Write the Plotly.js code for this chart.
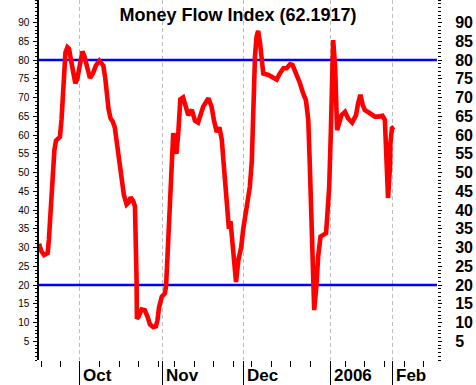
<!DOCTYPE html>
<html>
<head>
<meta charset="utf-8">
<script src="https://cdn.plot.ly/plotly-3.0.1.min.js"></script>
<style>html,body{margin:0;padding:0;background:#fff;}#chart{width:476px;height:385px;}</style>
</head>
<body>
<div id="chart"></div>
<script>
// Trading-session index (x) and Money Flow Index values (y)
const sessions = [0,0.6,1.3,2.2,2.5,2.9,3.3,3.5,3.9,4.3,4.8,5.3,5.7,6.0,6.2,6.7,7.2,7.6,8.1,8.6,9.2,9.7,10.4,11.0,11.5,12.2,12.9,13.7,14.4,15.3,16.3,16.8,17.2,17.6,18.1,18.7,19.2,19.6,19.9,20.3,20.9,21.5,22.2,22.7,23.2,23.8,24.3,24.5,24.7,24.8,25.2,26.0,26.8,27.5,28.1,28.9,29.6,30.0,30.4,31.1,31.9,32.2,32.4,32.7,33.0,33.3,33.6,34.0,34.4,34.8,35.3,35.8,36.5,37.0,37.8,38.7,39.5,40.3,41.6,42.9,43.7,44.3,45.0,45.7,46.3,46.7,47.1,47.5,47.9,48.1,48.5,48.8,49.2,49.9,50.5,51.2,51.7,52.6,53.4,53.9,54.1,54.3,54.7,55.1,55.5,56.0,56.4,56.8,58.1,59.3,60.2,61.0,61.9,62.7,63.6,64.2,65.3,66.1,66.9,67.6,67.9,68.2,68.6,68.9,69.2,69.5,69.7,70.3,70.7,71.3,72.0,72.7,73.0,73.5,73.9,74.1,74.4,74.5,75.0,75.2,75.5,76.0,76.6,77.5,78.3,79.3,80.3,80.8,81.4,82.0,82.5,83.8,85.1,85.9,87.0,87.6,87.8,88.2,88.4,88.9,89.0,89.4,89.9];
const mfi = [31,29,28,28.5,32,40,47,52,56,58.5,59.2,59.5,64,70,76,82,83.4,83,80,76.5,73.8,75,79,82.3,81,78,75.2,76.5,78.5,79.8,78.5,75,70,67,64.5,63.5,62,59,56.5,52.4,47.2,44,41.5,42,43.4,42.5,41,35,22,11,11.5,13.5,13.3,11.5,9.5,8.8,9,10.5,14,16.9,17.8,20,25,33,40,48,55,60.5,57,55,61,69.5,70,68.5,65.3,66.7,63.8,63.3,67.6,69.8,67.6,64,60.8,62,58.7,53.3,48.9,43.6,38,35,37,33,29.3,20.8,26.7,30,34.7,40,46.2,53,62,72.9,80.9,86.2,87.8,84.4,79.1,76.4,76,75.4,74.8,76.4,77.8,77.8,78.9,78.7,76,73.8,71.1,69.3,66.7,64,51.6,40.9,29.3,18,13.3,20.4,27.6,32.9,33.3,33.8,38.2,46.2,60.4,69.3,78.2,85.3,78.2,69.3,61.3,63.1,65.3,66.2,64.4,63.3,65.3,68.4,70.7,68,66.7,65.8,64.9,64.9,65.1,64,56,49.8,43.2,51.6,57.8,61.8,62.19];

const levels = [20, 80];
const xStart = 0, xEnd = 100.8;

const monthTicks = [10.2, 31.2, 51.7, 73.9, 89.6];
const monthLabels = ['Oct', 'Nov', 'Dec', '2006', 'Feb'];
const weekTicks = [0.7, 5.5, 15.3, 20.3, 25.2, 30.2, 34.3, 39.3, 44.3, 49.2, 53.8, 58.9, 63.8, 68.8, 77.5, 82.4, 87.4, 92.5, 97.3];
const yTicks = [5,10,15,20,25,30,35,40,45,50,55,60,65,70,75,80,85,90];

const lastValue = 62.1917;
const titleText = 'Money Flow Index (' + lastValue + ')';

const FONT = 'Liberation Sans, Arial, Helvetica, sans-serif';

const levelX = [], levelY = [];
levels.forEach(function (v, i) {
  if (i) { levelX.push(null); levelY.push(null); }
  levelX.push(xStart, xEnd); levelY.push(v, v);
});

const traces = [
  {x: levelX, y: levelY, type: 'scatter', mode: 'lines', yaxis: 'y',
   line: {color: '#0000ff', width: 2.6}, hoverinfo: 'skip', showlegend: false},
  {x: sessions, y: mfi, type: 'scatter', mode: 'lines', yaxis: 'y2',
   line: {color: '#ff0000', width: 4.6}, showlegend: false}
];

const annotations = monthTicks.map(function (v, i) {
  return {x: v, xref: 'x', y: -0.042, yref: 'paper', text: monthLabels[i],
    showarrow: false, xanchor: 'left', yanchor: 'middle', xshift: 1.5,
    font: {family: FONT, size: 17, color: '#000', weight: 'bold'}};
});

const yCommon = {
  range: [0, 96], fixedrange: true, showgrid: false, zeroline: false,
  tickmode: 'array', tickvals: yTicks, ticks: 'outside', ticklen: 4,
  tickcolor: '#000', tickwidth: 1,
  minor: {dtick: 1, tick0: 0, ticks: 'outside', ticklen: 2.5, tickcolor: '#000', tickwidth: 1, showgrid: false}
};

const layout = {
  width: 476, height: 385,
  margin: {l: 39, r: 39, t: 0, b: 25, pad: 0},
  paper_bgcolor: '#ffffff', plot_bgcolor: '#ffffff',
  showlegend: false,
  title: {text: titleText, x: 0.5, xref: 'container', xanchor: 'center',
          y: 1 - 15 / 385, yref: 'container', yanchor: 'middle',
          font: {family: FONT, size: 18, color: '#000', weight: 'bold'}},
  xaxis: {
    range: [xStart, xEnd], fixedrange: true, zeroline: false, showline: false,
    tickmode: 'array', tickvals: monthTicks, ticktext: monthLabels, showticklabels: false,
    ticks: 'outside', ticklen: 26, tickwidth: 1.2, tickcolor: '#000',
    showgrid: true, gridcolor: '#bdbdbd', gridwidth: 1, griddash: '4px,3px',
    minor: {tickmode: 'array', tickvals: weekTicks, ticks: 'outside', ticklen: 6,
            tickwidth: 1, tickcolor: '#000', showgrid: false}
  },
  yaxis: Object.assign({}, yCommon, {
    side: 'left', showline: true, linecolor: '#000', linewidth: 1.6,
    tickfont: {family: FONT, size: 10, color: '#000'}, ticklabelstandoff: 2
  }),
  yaxis2: Object.assign({}, yCommon, {
    side: 'right', overlaying: 'y', showline: false,
    tickfont: {family: FONT, size: 16, color: '#000', weight: 'bold'}, ticklabelstandoff: 10
  }),
  annotations: annotations
};

Plotly.newPlot('chart', traces, layout, {staticPlot: true, displayModeBar: false});
</script>
</body>
</html>
